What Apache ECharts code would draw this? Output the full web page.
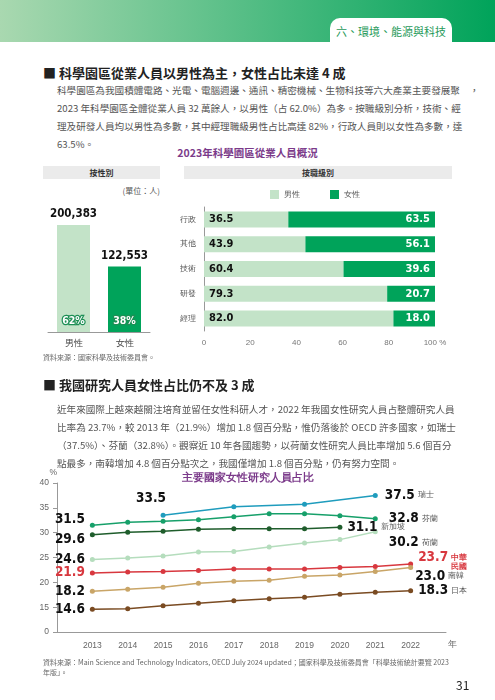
<!DOCTYPE html>
<html><head><meta charset="utf-8">
<script src="https://cdn.jsdelivr.net/npm/echarts@6/dist/echarts.min.js"></script>
<style>
body{margin:0;width:495px;height:700px;position:relative;background:#fff;font-family:"Noto Sans CJK TC",sans-serif;overflow:hidden}
.a{position:absolute}
.hd{left:0;top:0;width:495px;height:42px;background:linear-gradient(90deg,#a9d8b0,#00a35a)}
.tab{left:330px;top:18px;width:122px;height:24px;background:#fff;border-radius:10px 10px 0 0;color:#1f9a5a;font-size:11px;text-align:center;line-height:26px}
.h{left:43px;font-weight:bold;font-size:13px;color:#222}
.p{left:57px;width:410px;font-size:9.6px;line-height:18px;color:#555;white-space:nowrap}
.band{top:166px;height:13px;background:#ebebeb;font-size:8px;font-weight:bold;text-align:center;line-height:13px;color:#333}
.src{left:43px;font-size:7px;color:#666}
</style></head><body>
<div class="a hd"></div><div class="a tab">六、環境、能源與科技</div>
<div class="a h" style="top:63px">■ 科學園區從業人員以男性為主，女性占比未達 4 成</div>
<div class="a p" style="top:81px">科學園區為我國積體電路、光電、電腦週邊、通訊、精密機械、生物科技等六大產業主要發展聚　，<br>2023 年科學園區全體從業人員 32 萬餘人，以男性（占 62.0%）為多。按職級別分析，技術、經<br>理及研發人員均以男性為多數，其中經理職級男性占比高達 82%，行政人員則以女性為多數，達<br>63.5%。</div>
<div class="a" style="left:0;width:495px;top:145px;text-align:center;color:#7b3a8a;font-weight:bold;font-size:10.5px">2023年科學園區從業人員概況</div>
<div class="a band" style="left:43px;width:117px">按性別</div>
<div class="a band" style="left:184px;width:268px">按職級別</div>
<div class="a" style="left:100px;top:185px;width:60px;text-align:right;font-size:8px;color:#555">(單位：人)</div>
<div id="c1" class="a" style="left:43px;top:180px;width:117px;height:175px"></div>
<div id="c2" class="a" style="left:170px;top:180px;width:290px;height:175px"></div>
<div class="a src" style="top:352px">資料來源：國家科學及技術委員會。</div>
<div class="a h" style="top:375px">■ 我國研究人員女性占比仍不及 3 成</div>
<div class="a p" style="top:400px">近年來國際上越來越關注培育並留任女性科研人才，2022 年我國女性研究人員占整體研究人員<br>比率為 23.7%，較 2013 年（21.9%）增加 1.8 個百分點，惟仍落後於 OECD 許多國家，如瑞士<br>（37.5%）、芬蘭（32.8%）。觀察近 10 年各國趨勢，以荷蘭女性研究人員比率增加 5.6 個百分<br>點最多，南韓增加 4.8 個百分點次之，我國僅增加 1.8 個百分點，仍有努力空間。</div>
<div id="c3" class="a" style="left:0;top:462px;width:495px;height:190px"></div>
<div class="a src" style="top:657px;left:43px;width:410px;line-height:10px">資料來源：Main Science and Technology Indicators, OECD July 2024 updated；國家科學及技術委員會「科學技術統計要覽 2023 年版」。</div>
<div class="a" style="left:456px;top:676px;font-size:12px;color:#222">31</div>
<script>
var genders = ['男性', '女性'];
var genderValues = [200383, 122553];
var genderPct = ['62%', '38%'];
var levels = ['行政', '其他', '技術', '研發', '經理'];
var maleShare = [36.5, 43.9, 60.4, 79.3, 82.0];
var femaleShare = [63.5, 56.1, 39.6, 20.7, 18.0];
var years = [2013, 2014, 2015, 2016, 2017, 2018, 2019, 2020, 2021, 2022];
var swiss = [null, null, 33.5, null, 35.2, null, 35.7, null, 37.5, null];
var finland = [31.5, 32.1, 32.3, 32.6, 33.2, 33.8, 33.8, 33.4, 32.8, null];
var singapore = [29.6, 30.1, 30.3, 30.7, 30.8, 30.8, 30.8, 31.1, null, null];
var netherlands = [24.6, 24.9, 25.3, 26.1, 26.2, 27.1, 27.9, 28.6, 30.2, null];
var taiwan = [21.9, 22.1, 22.2, 22.4, 22.7, 22.7, 22.7, 23.0, 23.2, 23.7];
var korea = [18.2, 18.6, 19.0, 19.8, 20.2, 20.4, 21.2, 21.5, 22.2, 23.0];
var japan = [14.6, 14.7, 15.3, 15.8, 16.3, 16.7, 17.0, 17.6, 18.0, 18.3];

var numFont = '"DejaVu Sans Condensed","Liberation Sans Narrow",sans-serif';
var light = '#c3e3c8', green = '#00a35a';

var c1 = echarts.init(document.getElementById('c1'));
c1.setOption({
    animation: false,
    grid: {left: 5, right: 10, top: 45, bottom: 23},
    xAxis: {type: 'category', data: genders, axisTick: {show: false},
        axisLine: {lineStyle: {color: '#999'}}, axisLabel: {color: '#444', fontSize: 8.5, margin: 7}},
    yAxis: {type: 'value', max: 200383, show: false},
    series: [
        {type: 'bar', barWidth: 33, data: genderValues.map(function (v, i) {
            return {value: v, itemStyle: {color: i ? green : light}};
        }), label: {show: true, position: 'top', color: '#111', fontFamily: numFont, fontWeight: 'bold', fontSize: 11.5,
            formatter: function (p) { return p.value.toLocaleString('en-US'); }}},
        {type: 'bar', barWidth: 33, barGap: '-100%', data: genderValues, itemStyle: {color: 'transparent'},
            label: {show: true, position: 'insideBottom', distance: 5, color: '#fff', fontWeight: 'bold', fontSize: 10.5,
                textBorderColor: '#1d8f55', textBorderWidth: 2.5, fontFamily: numFont,
                formatter: function (p) { return genderPct[p.dataIndex]; }}}
    ]
});

var c2 = echarts.init(document.getElementById('c2'));
c2.setOption({
    animation: false,
    legend: {top: 5, left: 'center', itemWidth: 9, itemHeight: 9, itemGap: 30, icon: 'rect',
        textStyle: {fontSize: 8, color: '#555'}},
    grid: {left: 34, right: 25, top: 27, bottom: 24},
    xAxis: {type: 'value', min: 0, max: 100, interval: 20, splitLine: {show: false},
        axisLabel: {color: '#777', fontSize: 8, formatter: function (v) { return v === 100 ? '100 %' : v; }}},
    yAxis: {type: 'category', data: levels, inverse: true, axisTick: {show: false},
        axisLine: {lineStyle: {color: '#999'}}, axisLabel: {color: '#555', fontSize: 8}},
    series: [
        {name: '男性', type: 'bar', stack: 's', barWidth: 16, data: maleShare, itemStyle: {color: light},
            label: {show: true, position: 'insideLeft', color: '#111', fontFamily: numFont, fontWeight: 'bold', fontSize: 11,
                formatter: function (p) { return p.value.toFixed(1); }}},
        {name: '女性', type: 'bar', stack: 's', barWidth: 16, data: femaleShare, itemStyle: {color: green},
            label: {show: true, position: 'insideRight', color: '#fff', fontFamily: numFont, fontWeight: 'bold', fontSize: 11,
                formatter: function (p) { return p.value.toFixed(1); }}}
    ]
});

var lines = [
    {name: '瑞士', data: swiss, color: '#1f9cbd', first: ['top', [-12, -2]], last: ['right', [2, 0]]},
    {name: '芬蘭', data: finland, color: '#17a06a', first: ['left', [0, -6]], last: ['right', [6, 0]]},
    {name: '新加坡', data: singapore, color: '#1f5d2c', first: ['left', [0, 5]], last: ['right', [0, 0]]},
    {name: '荷蘭', data: netherlands, color: '#b5ddbd', first: ['left', [0, 0]], last: ['right', [6, 11]]},
    {name: '中華\n民國', data: taiwan, color: '#d8383f', first: ['left', [0, 0]], last: ['right', [0, -2]], red: true},
    {name: '南韓', data: korea, color: '#c9a567', first: ['left', [0, 0]], last: ['right', [-3, 9]]},
    {name: '日本', data: japan, color: '#7a4b22', first: ['left', [0, 0]], last: ['right', [0, 0]]}
];

var series = lines.map(function (s) {
    var idx = [];
    s.data.forEach(function (v, i) { if (v !== null) idx.push(i); });
    var firstI = idx[0], lastI = idx[idx.length - 1];
    var numColor = s.red ? '#d8383f' : '#111';
    var pts = [];
    s.data.forEach(function (v, i) {
        if (v === null) return;
        var item = {value: [years[i], v]};
        if (i === firstI || i === lastI) {
            var cfg = i === firstI ? s.first : s.last;
            item.label = {show: true, position: cfg[0], offset: cfg[1],
                formatter: i === lastI ? '{n|' + v.toFixed(1) + '} {c|' + s.name + '}' : '{n|' + v.toFixed(1) + '}',
                rich: {n: {fontFamily: numFont, fontWeight: 'bold', fontSize: 13.5, color: numColor},
                    c: {fontSize: 7.5, color: s.red ? '#d8383f' : '#555', fontWeight: s.red ? 'bold' : 'normal'}}};
            if (s.red && i === lastI) {
                item.label.formatter = '{n|' + v.toFixed(1) + '}{c|中華}\n{n2|}{c|民國}';
                item.label.rich.c.lineHeight = 9;
                item.label.rich.c.padding = [0, 0, 0, 3];
                item.label.rich.n.lineHeight = 9;
                item.label.rich.n2 = {width: 30, lineHeight: 9};
            }
        }
        pts.push(item);
    });
    return {type: 'line', name: s.name, data: pts, color: s.color, symbol: 'circle', symbolSize: 5,
        lineStyle: {width: 1.5}, label: {show: false}};
});

var c3 = echarts.init(document.getElementById('c3'));
c3.setOption({
    animation: false,
    title: {text: '主要國家女性研究人員占比', left: 'center', top: 6,
        textStyle: {color: '#7b3a8a', fontSize: 10.5, fontWeight: 'bold'}},
    grid: {left: 57, width: 389, top: 21, bottom: 20},
    xAxis: {type: 'value', min: 2012, max: 2023, interval: 1, splitLine: {show: false},
        name: '年', nameLocation: 'end', nameGap: 2, nameTextStyle: {color: '#666', fontSize: 8.5, verticalAlign: 'top', padding: [8, 0, 0, 0]},
        axisLine: {lineStyle: {color: '#999'}}, axisTick: {show: false},
        axisLabel: {color: '#666', fontSize: 8.5, margin: 9,
            formatter: function (v) { return v === 2012 || v === 2023 ? '' : v; }}},
    yAxis: {type: 'value', min: 10, max: 40, interval: 5, splitLine: {show: false},
        name: '%', nameGap: 6, nameTextStyle: {color: '#666', fontSize: 8.5, align: 'right'},
        axisLine: {show: true, lineStyle: {color: '#999'}}, axisTick: {show: true, length: 4},
        axisLabel: {color: '#666', fontSize: 8.5, formatter: function (v) { return v === 10 ? '0' : v; }}},
    series: series
});
</script>
</body></html>
